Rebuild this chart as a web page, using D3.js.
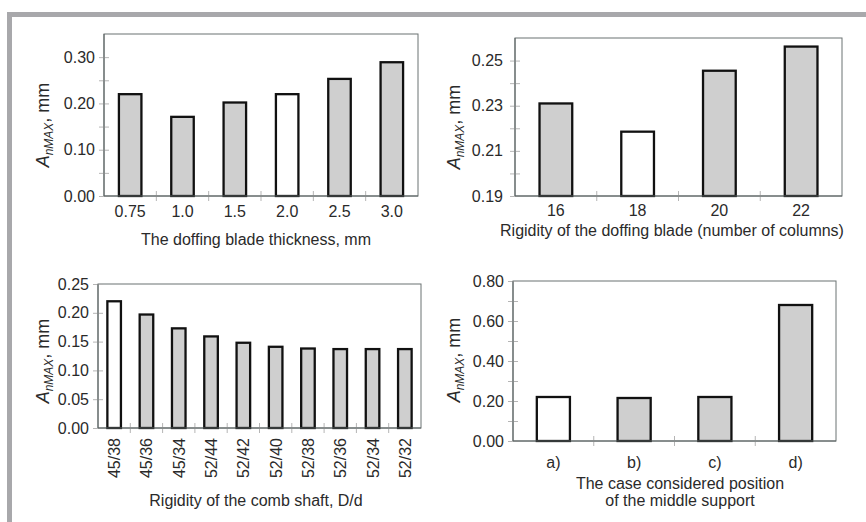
<!DOCTYPE html>
<html>
<head>
<meta charset="utf-8">
<script src="https://cdn.jsdelivr.net/npm/d3@7"></script>
<style>
  body { margin: 0; background: #fff; }
  svg { display: block; font-family: "Liberation Sans", Arial, sans-serif; }
</style>
</head>
<body>
<div id="chart"></div>
<script>
// Chart values
const thicknessCats = ["0.75", "1.0", "1.5", "2.0", "2.5", "3.0"];
const thicknessVals = [0.22, 0.171, 0.202, 0.22, 0.253, 0.289];

const columnsCats = ["16", "18", "20", "22"];
const columnsVals = [0.231, 0.2185, 0.2455, 0.2562];

const shaftCats = ["45/38", "45/36", "45/34", "52/44", "52/42", "52/40", "52/38", "52/36", "52/34", "52/32"];
const shaftVals = [0.22, 0.197, 0.173, 0.159, 0.148, 0.141, 0.138, 0.137, 0.137, 0.137];

const supportCats = ["a)", "b)", "c)", "d)"];
const supportVals = [0.22, 0.215, 0.22, 0.68];

// the base case in each panel is drawn as an open bar
const baseCases = ["2.0", "18", "45/38", "a)"];

const W = 866, H = 522;
const FS = 16;

const svg = d3.select("#chart")
  .append("svg")
  .attr("width", W)
  .attr("height", H);

// Grey page frame
svg.append("rect").attr("x", 7).attr("y", 12).attr("width", W - 7).attr("height", 5).attr("fill", "#a8a8ab");
svg.append("rect").attr("x", 7).attr("y", 12).attr("width", 5).attr("height", H - 12).attr("fill", "#a8a8ab");

const panels = [
  { cats: thicknessCats, vals: thicknessVals, box: [104, 34, 418, 196], domain: [0, 0.35],
    major: [0, 0.1, 0.2, 0.3], minor: [0.05, 0.15, 0.25], fmt: ".2f", pad: 0.57, labelGap: 9,
    xLabelY: 217, title: ["The doffing blade thickness, mm"], titleX: 256, titleY: 245,
    yLabX: 49, yLabY: 125 },
  { cats: columnsCats, vals: columnsVals, box: [515, 38, 842, 196], domain: [0.19, 0.26],
    major: [0.19, 0.21, 0.23, 0.25], minor: [0.2, 0.22, 0.24], fmt: ".2f", pad: 0.6, labelGap: 12,
    xLabelY: 216, title: ["Rigidity of the doffing blade (number of columns)"], titleX: 672, titleY: 236,
    yLabX: 460, yLabY: 127 },
  { cats: shaftCats, vals: shaftVals, box: [98, 284, 421, 428], domain: [0, 0.25],
    major: [0, 0.05, 0.1, 0.15, 0.2, 0.25], minor: [], fmt: ".2f", pad: 0.58, labelGap: 9,
    rotate: true, title: ["Rigidity of the comb shaft, D/d"], titleX: 256, titleY: 506,
    yLabX: 49, yLabY: 361 },
  { cats: supportCats, vals: supportVals, box: [513, 281, 836, 441], domain: [0, 0.8],
    major: [0, 0.2, 0.4, 0.6, 0.8], minor: [0.1, 0.3, 0.5, 0.7], fmt: ".2f", pad: 0.59, labelGap: 9,
    xLabelY: 468, title: ["The case considered position", "of the middle support"], titleX: 680, titleY: 489,
    yLabX: 460, yLabY: 360 }
];

panels.forEach(p => {
  const [x0, y0, x1, y1] = p.box;
  const data = p.cats.map((c, i) => ({ cat: c, val: p.vals[i] }));

  const x = d3.scaleBand().domain(p.cats).range([x0, x1]).paddingInner(p.pad).paddingOuter(p.pad / 2);
  const y = d3.scaleLinear().domain(p.domain).range([y1, y0]);

  const g = svg.append("g");

  // plot frame
  g.append("rect")
    .attr("x", x0).attr("y", y0)
    .attr("width", x1 - x0).attr("height", y1 - y0)
    .attr("fill", "none").attr("stroke", "#6b7272").attr("stroke-width", 1);

  // y ticks (major + minor), crossing the axis line
  const yAxis = g.append("g")
    .attr("transform", `translate(${x0},0)`)
    .call(d3.axisLeft(y).tickValues(p.major.concat(p.minor)).tickSize(5).tickFormat(""));
  yAxis.select(".domain").remove();
  yAxis.selectAll(".tick line").attr("x2", 5).attr("x1", -5).attr("stroke", "#b5b5b5");

  g.selectAll(".ylab")
    .data(p.major)
    .enter().append("text")
    .attr("x", x0 - p.labelGap)
    .attr("y", d => y(d))
    .attr("dy", "0.35em")
    .attr("text-anchor", "end")
    .attr("font-size", FS)
    .attr("fill", "#2a2a2a")
    .text(d => d3.format(p.fmt)(d));

  // x ticks at band boundaries
  const bounds = p.cats.slice(1).map(c => x(c) - x.step() * x.paddingInner() / 2);
  g.selectAll(".xt")
    .data(bounds)
    .enter().append("line")
    .attr("x1", d => d).attr("x2", d => d)
    .attr("y1", y1 - 5).attr("y2", y1 + 5)
    .attr("stroke", "#b5b5b5");

  // bars
  g.selectAll(".bar")
    .data(data)
    .enter().append("rect")
    .attr("x", d => x(d.cat))
    .attr("y", d => y(d.val))
    .attr("width", x.bandwidth())
    .attr("height", d => y(p.domain[0]) - y(d.val))
    .attr("fill", d => baseCases.includes(d.cat) ? "#ffffff" : "#cfcfcf")
    .attr("stroke", "#111")
    .attr("stroke-width", 2.3);

  // axis lines
  g.append("line")
    .attr("x1", x0).attr("x2", x1).attr("y1", y1).attr("y2", y1)
    .attr("stroke", "#5b6363");
  g.append("line")
    .attr("x1", x0).attr("x2", x0).attr("y1", y0).attr("y2", y1)
    .attr("stroke", "#5b6363");

  // category labels
  const xl = g.selectAll(".xlab")
    .data(p.cats)
    .enter().append("text")
    .attr("font-size", FS)
    .attr("fill", "#2a2a2a")
    .text(d => d);
  if (p.rotate) {
    xl.attr("transform", d => `translate(${x(d) + x.bandwidth() / 2 + 6},${y1 + 10}) rotate(-90)`)
      .attr("text-anchor", "end");
  } else {
    xl.attr("x", d => x(d) + x.bandwidth() / 2)
      .attr("y", p.xLabelY)
      .attr("text-anchor", "middle");
  }

  // axis title
  g.selectAll(".xtitle")
    .data(p.title)
    .enter().append("text")
    .attr("x", p.titleX)
    .attr("y", (d, i) => p.titleY + i * 17)
    .attr("text-anchor", "middle")
    .attr("font-size", FS)
    .attr("fill", "#2a2a2a")
    .text(d => d);

  // y title: A_nMAX, mm
  const yt = g.append("text")
    .attr("transform", `translate(${p.yLabX},${p.yLabY}) rotate(-90)`)
    .attr("text-anchor", "middle")
    .attr("font-size", 18)
    .attr("fill", "#2a2a2a");
  yt.append("tspan").attr("font-style", "italic").text("A");
  yt.append("tspan").attr("font-style", "italic").attr("font-size", 12).attr("dy", 4).text("nMAX");
  yt.append("tspan").attr("dy", -4).text(", mm");
});
</script>
</body>
</html>
